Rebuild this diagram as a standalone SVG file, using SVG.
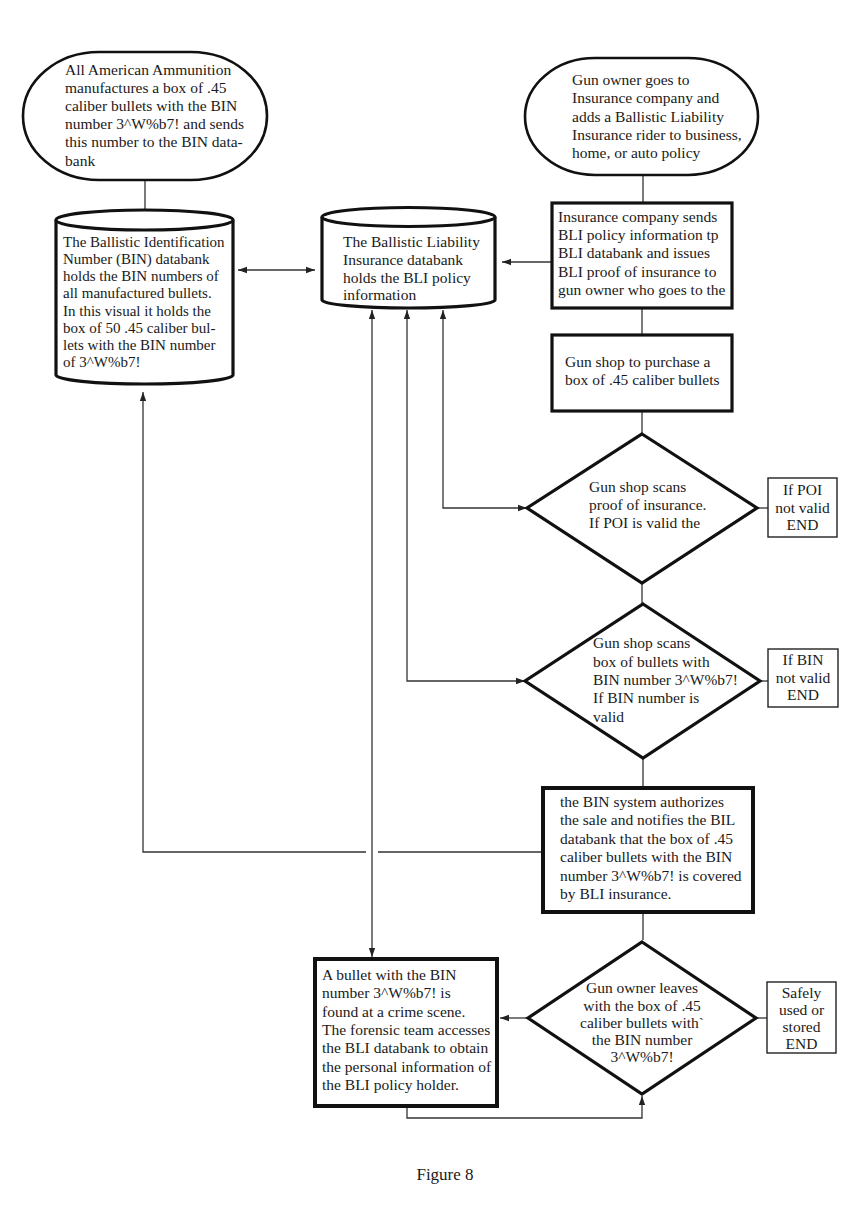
<svg xmlns="http://www.w3.org/2000/svg" width="861" height="1209" viewBox="0 0 861 1209">
<defs>
<marker id="ah" viewBox="0 0 10 10" refX="10" refY="5" markerWidth="9" markerHeight="9" markerUnits="userSpaceOnUse" orient="auto-start-reverse">
<path d="M0,1.5 L10,5 L0,8.5 Z" fill="#222"/>
</marker>
<style>
text{font-family:"Liberation Serif","Times New Roman",serif;font-size:15.5px;fill:#1a1a1a}
.c{text-anchor:middle}
.s{font-size:15px}
.thick{fill:#fff;stroke:#111;stroke-width:3.2}
.med{fill:#fff;stroke:#111;stroke-width:2.6}
.thin{fill:#fff;stroke:#222;stroke-width:1.4}
.ln{fill:none;stroke:#333;stroke-width:1.3}
</style>
</defs>
<rect width="861" height="1209" fill="#fff"/>

<g id="connectors">
<line class="ln" x1="145" y1="180" x2="145" y2="220" marker-end="url(#ah)"/>
<line class="ln" x1="238" y1="270" x2="315" y2="270" marker-start="url(#ah)" marker-end="url(#ah)"/>
<line class="ln" x1="643" y1="175" x2="643" y2="203"/>
<line class="ln" x1="552" y1="262" x2="502" y2="262" marker-end="url(#ah)"/>
<line class="ln" x1="642" y1="308" x2="642" y2="335"/>
<line class="ln" x1="642" y1="411" x2="642" y2="434"/>
<polyline class="ln" points="443,310 443,508 527,508" marker-start="url(#ah)" marker-end="url(#ah)"/>
<line class="ln" x1="757" y1="508" x2="768" y2="508"/>
<line class="ln" x1="642" y1="583" x2="642" y2="604"/>
<polyline class="ln" points="407,310 407,681 525,681" marker-start="url(#ah)" marker-end="url(#ah)"/>
<line class="ln" x1="760" y1="681" x2="768" y2="681"/>
<line class="ln" x1="643" y1="758" x2="643" y2="788"/>
<line class="ln" x1="372" y1="310" x2="372" y2="957" marker-start="url(#ah)" marker-end="url(#ah)"/>
<polyline class="ln" points="143,392 143,852 366,852" marker-start="url(#ah)"/>
<line class="ln" x1="378" y1="852" x2="543" y2="852"/>
<line class="ln" x1="643" y1="912" x2="643" y2="940"/>
<line class="ln" x1="527" y1="1018" x2="500" y2="1018" marker-end="url(#ah)"/>
<polyline class="ln" points="407,1106 407,1118 642,1118 642,1096" marker-end="url(#ah)"/>
<line class="ln" x1="756" y1="1018" x2="767" y2="1018"/>
</g>

<g id="ammo-start">
<rect class="med" x="23" y="52" width="244" height="128" rx="76" ry="64"/>
<text x="65" y="75">All American Ammunition</text>
<text x="65" y="93">manufactures a box of .45</text>
<text x="65" y="111">caliber bullets with the BIN</text>
<text x="65" y="129">number 3^W%b7! and sends</text>
<text x="65" y="147">this number to the BIN data-</text>
<text x="65" y="166">bank</text>
</g>

<g id="bin-databank">
<path class="thick" d="M56,220 L56,375 A88.5,9 0 0 0 233,375 L233,220"/>
<ellipse class="thick" cx="144.5" cy="220" rx="88.5" ry="10"/>
<text class="s" x="63" y="247">The Ballistic Identification</text>
<text class="s" x="63" y="264">Number (BIN) databank</text>
<text class="s" x="63" y="281">holds the BIN numbers of</text>
<text class="s" x="63" y="298">all manufactured bullets.</text>
<text class="s" x="63" y="316">In this visual it holds the</text>
<text class="s" x="63" y="333">box of 50 .45 caliber bul-</text>
<text class="s" x="63" y="350">lets with the BIN number</text>
<text class="s" x="63" y="367">of 3^W%b7!</text>
</g>

<g id="bli-databank">
<path class="thick" d="M322,217 L322,300 A86.5,8 0 0 0 495,300 L495,217"/>
<ellipse class="thick" cx="408.5" cy="217" rx="86.5" ry="9.5"/>
<text x="343" y="247">The Ballistic Liability</text>
<text x="343" y="265">Insurance databank</text>
<text x="343" y="283">holds the BLI policy</text>
<text x="343" y="300">information</text>
</g>

<g id="owner-start">
<rect class="med" x="525" y="58" width="233" height="117" rx="70" ry="58.5"/>
<text x="572" y="85">Gun owner goes to</text>
<text x="572" y="103">Insurance company and</text>
<text x="572" y="122">adds a Ballistic Liability</text>
<text x="572" y="140">Insurance rider to business,</text>
<text x="572" y="158">home, or auto policy</text>
</g>

<g id="insurance-company">
<rect class="thick" x="552" y="203" width="180" height="105"/>
<text x="558" y="222">Insurance company sends</text>
<text x="558" y="240">BLI policy information tp</text>
<text x="558" y="258">BLI databank and issues</text>
<text x="558" y="277">BLI proof of insurance to</text>
<text x="558" y="295">gun owner who goes to the</text>
</g>

<g id="gun-shop">
<rect class="thick" x="552" y="335" width="180" height="76"/>
<text x="565" y="367">Gun shop to purchase a</text>
<text x="565" y="385">box of .45 caliber bullets</text>
</g>

<g id="scan-poi">
<polygon class="thick" points="642,434 757,508 642,583 527,508"/>
<text x="589" y="492">Gun shop scans</text>
<text x="589" y="510">proof of insurance.</text>
<text x="589" y="528">If POI is valid the</text>
</g>

<g id="poi-end">
<rect class="thin" x="768" y="478" width="69" height="59"/>
<text class="c" x="802.5" y="495">If POI</text>
<text class="c" x="802.5" y="513">not valid</text>
<text class="c" x="802.5" y="530">END</text>
</g>

<g id="scan-bin">
<polygon class="thick" points="643,604 760,681 643,758 525,681"/>
<text x="593" y="648">Gun shop scans</text>
<text x="593" y="667">box of bullets with</text>
<text x="593" y="685">BIN number 3^W%b7!</text>
<text x="593" y="703">If BIN number is</text>
<text x="593" y="722">valid</text>
</g>

<g id="bin-end">
<rect class="thin" x="768" y="649" width="70" height="58"/>
<text class="c" x="803" y="665">If BIN</text>
<text class="c" x="803" y="683">not valid</text>
<text class="c" x="803" y="700">END</text>
</g>

<g id="authorize">
<rect class="thick" x="543" y="788" width="210" height="124" style="stroke-width:4"/>
<text x="560" y="807">the BIN system authorizes</text>
<text x="560" y="825">the sale and notifies the BIL</text>
<text x="560" y="844">databank that the box of .45</text>
<text x="560" y="862">caliber bullets with the BIN</text>
<text x="560" y="881">number 3^W%b7! is covered</text>
<text x="560" y="899">by BLI insurance.</text>
</g>

<g id="leaves">
<polygon class="thick" points="642,942 756,1018 642,1094 528,1018"/>
<text class="c" x="642" y="993">Gun owner leaves</text>
<text class="c" x="642" y="1011">with the box of .45</text>
<text class="c" x="642" y="1028">caliber bullets with`</text>
<text class="c" x="642" y="1045">the BIN number</text>
<text class="c" x="642" y="1062">3^W%b7!</text>
</g>

<g id="safe-end">
<rect class="thin" x="767" y="982" width="69" height="71"/>
<text class="c" x="801.5" y="998">Safely</text>
<text class="c" x="801.5" y="1015">used or</text>
<text class="c" x="801.5" y="1032">stored</text>
<text class="c" x="801.5" y="1049">END</text>
</g>

<g id="crime-scene">
<rect class="thick" x="315" y="959" width="182" height="147" style="stroke-width:4"/>
<text x="322" y="980">A bullet with the BIN</text>
<text x="322" y="998">number 3^W%b7! is</text>
<text x="322" y="1017">found at a crime scene.</text>
<text x="322" y="1035">The forensic team accesses</text>
<text x="322" y="1053">the BLI databank to obtain</text>
<text x="322" y="1072">the personal information of</text>
<text x="322" y="1090">the BLI policy holder.</text>
</g>

<text class="c" x="445" y="1180" style="font-size:17px">Figure 8</text>
</svg>
